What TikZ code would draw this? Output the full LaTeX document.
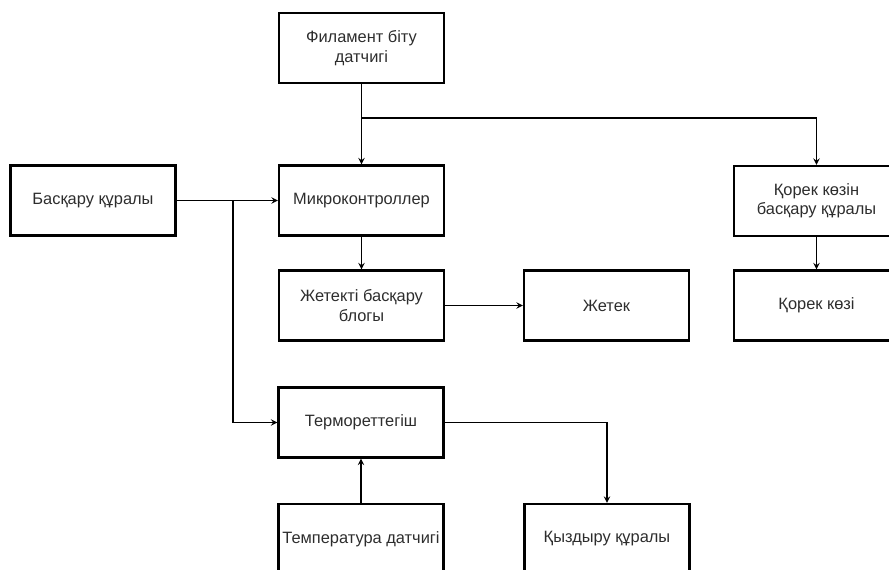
\documentclass[tikz,border=0pt]{standalone}
\usepackage{fontspec}
\setmainfont{Liberation Sans}
\definecolor{txtgray}{RGB}{45,45,45}
\tikzset{
	blockbox/.style={draw, line width=2pt, minimum width=4.95cm, minimum height=2.1cm,
		align=center, text=txtgray, font=\fontsize{14}{16.5}\selectfont, inner sep=2pt},
	wire/.style={line width=1.4pt, -stealth}
}

\begin{document}
\begin{tikzpicture}[x=0.03cm, y=-0.03cm]
	\useasboundingbox (0,0) rectangle (889,570);
	\clip (0,0) rectangle (889,570);
	\node[blockbox] (filament) at (361.5,48) {Филамент біту\\датчигі};
	\node[blockbox] (control) at (93,200.5) {Басқару құралы};
	\node[blockbox] (mcu) at (361.5,200.5) {Микроконтроллер};
	\node[blockbox] (powerctl) at (816.5,201) {Қорек көзін\\басқару құралы};
	\node[blockbox] (driverctl) at (361.5,305.5) {Жетекті басқару\\блогы};
	\node[blockbox] (driver) at (606.5,305.5) {Жетек};
	\node[blockbox] (power) at (816.5,305.5) {Қорек көзі};
	\node[blockbox] (thermo) at (361,422.5) {Термореттегіш};
	\node[blockbox] (tempsens) at (361,539) {Температура датчигі};
	\node[blockbox] (heater) at (607,539) {Қыздыру құралы};
	\coordinate (split) at (361.5,118);
	\coordinate (tap) at (233,200.5);
	\draw[wire] (filament.south)--(mcu.north);
	\draw[wire] (split) -| (powerctl.north);
	\draw[wire] (control.east)--(mcu.west);
	\draw[wire] (tap) |- (thermo.west);
	\draw[wire] (mcu.south)--(driverctl.north);
	\draw[wire] (driverctl.east)--(driver.west);
	\draw[wire] (powerctl.south)--(power.north);
	\draw[wire] (tempsens.north)--(thermo.south);
	\draw[wire] (thermo.east) -| (heater.north);
\end{tikzpicture}
\end{document}
